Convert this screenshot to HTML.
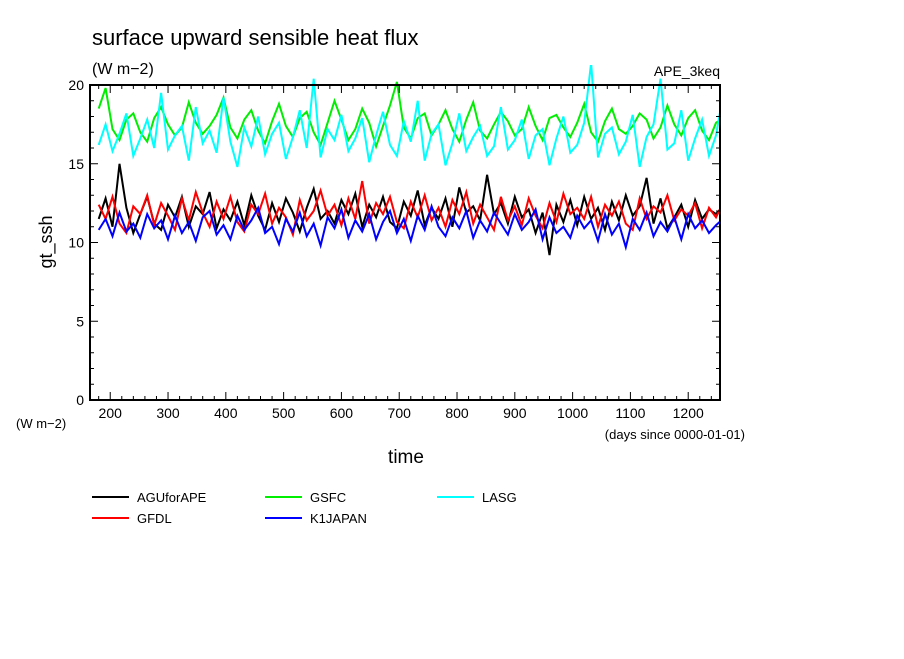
<!DOCTYPE html>
<html><head><meta charset="utf-8"><style>
body{margin:0;background:#fff;}
svg text{font-family:"Liberation Sans",sans-serif;fill:#000;}
</style></head><body>
<svg id="chart" width="904" height="654" xmlns="http://www.w3.org/2000/svg">
<rect width="904" height="654" fill="#fff"/>
<text x="92" y="45" font-size="22">surface upward sensible heat flux</text>
<text x="92" y="74" font-size="16">(W m−2)</text>
<text x="720" y="76" font-size="14" text-anchor="end">APE_3keq</text>
<text transform="translate(52,242) rotate(-90)" font-size="18" text-anchor="middle">gt_ssh</text>
<text x="16" y="428" font-size="13">(W m−2)</text>
<text x="745" y="439" font-size="13" text-anchor="end">(days since 0000-01-01)</text>
<text x="406" y="463" font-size="19" text-anchor="middle">time</text>
<g id="plot"></g>
<g id="axes"></g>
<g id="legend"></g>
</svg>
<script>
const xStart = 180, xStep = 12;
const xTicks = [200,300,400,500,600,700,800,900,1000,1100,1200];
const yTicks = [0,5,10,15,20];
const seriesNames = ["AGUforAPE","GFDL","GSFC","K1JAPAN","LASG"];
const seriesColors = ["#000000","#ff0000","#00ee00","#0000ff","#00ffff"];
const gsfc = [18.5,19.8,17.2,16.5,17.8,18.2,17.0,16.4,17.9,18.6,17.5,16.8,17.3,18.9,17.6,16.9,17.4,18.1,19.2,17.3,16.6,17.8,18.4,17.1,16.3,17.7,18.8,17.4,16.7,17.9,18.3,17.0,16.2,17.6,19.0,17.8,16.5,17.2,18.5,17.6,16.1,17.4,18.7,20.2,17.3,16.6,17.9,18.2,16.8,17.5,18.4,17.2,16.4,17.8,18.9,17.1,16.6,17.5,18.3,17.7,16.8,17.2,18.6,17.4,16.5,17.9,18.1,17.3,16.7,17.6,18.8,17.0,16.4,17.7,18.5,17.2,16.9,17.4,18.2,17.8,16.6,17.3,18.7,17.5,16.8,17.9,18.4,17.1,16.5,17.6,17.9];
const lasg = [16.2,17.5,15.8,16.9,18.2,15.5,16.6,17.8,16.0,19.5,15.9,16.8,17.4,15.2,18.6,16.3,17.1,15.7,19.2,16.4,14.8,17.3,16.1,18.0,15.6,16.9,17.6,15.3,16.7,18.4,16.0,20.4,15.4,17.2,16.5,18.1,15.8,16.6,17.9,15.1,16.8,18.3,16.2,15.5,17.7,16.4,19.0,15.2,16.9,17.5,14.9,16.3,18.2,15.8,16.7,17.4,15.5,16.1,18.6,15.9,16.5,17.8,15.3,16.8,17.2,14.9,16.6,18.0,15.7,16.2,17.6,21.4,15.4,16.9,17.3,15.6,16.4,18.1,14.8,16.7,17.5,20.4,15.9,16.3,18.4,15.2,16.6,17.8,15.5,16.8,19.3];
const agu = [11.5,12.8,11.0,15.0,12.2,10.6,11.8,12.9,11.2,10.8,12.4,11.6,12.9,11.0,12.3,11.8,13.2,10.9,12.1,11.4,12.6,11.1,13.0,11.7,10.8,12.5,11.3,12.8,11.9,10.7,12.2,13.4,11.5,12.0,11.2,12.7,11.8,13.1,11.0,12.4,11.6,12.9,11.3,10.9,12.6,11.7,13.3,11.1,12.2,11.5,12.8,11.0,13.5,11.9,12.3,11.4,14.3,11.8,12.5,11.2,12.9,11.6,12.1,10.6,11.9,9.2,12.4,11.3,12.7,11.1,12.9,11.5,12.2,10.8,12.6,11.4,13.0,11.7,12.3,14.1,11.2,12.8,10.9,11.6,12.4,11.0,12.7,11.5,12.1,11.8,12.3];
const gfdl = [12.4,11.5,12.9,11.2,10.6,12.3,11.8,13.0,11.1,12.5,11.7,10.8,12.8,11.4,13.2,11.9,11.0,12.6,11.5,12.9,11.3,10.7,12.4,11.8,13.1,11.2,12.2,11.6,10.5,12.7,11.4,12.0,13.3,11.7,12.4,11.1,12.8,11.5,13.9,11.2,12.5,11.8,12.9,11.3,10.9,12.6,11.6,13.0,11.4,12.2,11.0,12.7,11.8,13.2,11.2,12.4,11.6,10.8,12.9,11.4,12.3,11.1,12.8,11.7,10.9,12.5,11.3,13.1,11.8,12.2,11.5,12.9,11.0,12.4,11.7,12.6,11.2,10.8,12.8,11.5,12.3,11.9,13.0,11.4,12.1,11.7,12.5,10.9,12.2,11.6,12.5];
const k1 = [10.8,11.5,10.4,11.9,10.7,11.2,10.3,11.8,10.9,11.4,10.2,11.7,10.6,11.3,10.1,11.6,12.0,10.5,11.1,10.2,11.7,10.8,11.4,12.2,10.6,11.0,9.9,11.5,10.7,11.9,10.4,11.2,9.8,11.6,10.9,12.1,10.3,11.4,10.7,11.8,10.2,11.3,12.0,10.6,11.5,10.1,11.7,10.8,12.3,11.0,10.4,11.6,10.9,12.0,10.3,11.4,10.7,11.9,11.2,10.5,11.8,10.8,11.3,12.1,10.2,11.6,10.6,11.0,10.3,11.7,10.9,11.4,10.1,11.8,10.5,11.2,9.7,11.5,10.8,11.9,10.4,11.3,10.7,11.6,10.2,11.8,10.9,11.4,10.6,11.1,11.5];
const seriesData = [agu,gfdl,gsfc,k1,lasg];
const drawOrder = [2,4,0,1,3];

const X0=90,X1=720,Y0=85,Y1=400, D0=165, D1=1255, V0=0, V1=20;
const xs = d => X0 + (d-D0)/(D1-D0)*(X1-X0);
const ys = v => Y1 - (v-V0)/(V1-V0)*(Y1-Y0);
const NS="http://www.w3.org/2000/svg";
function mk(tag, attrs, parent){const e=document.createElementNS(NS,tag);for(const k in attrs)e.setAttribute(k,attrs[k]);parent.appendChild(e);return e;}
const plot=document.getElementById('plot'), axes=document.getElementById('axes'), legend=document.getElementById('legend');
const clip=mk('clipPath',{id:'clp'},plot); mk('rect',{x:X0,y:Y0-20,width:X1-X0,height:Y1-Y0+20},clip);
drawOrder.forEach(i=>{
  const arr=seriesData[i];
  const pts=arr.map((v,j)=>xs(xStart+j*xStep).toFixed(1)+','+ys(v).toFixed(1)).join(' ');
  const pl=mk('polyline',{points:pts,fill:'none',stroke:seriesColors[i],'stroke-width':2,'clip-path':'url(#clp)'},plot);
  
  
});
const frame=mk('rect',{x:X0,y:Y0,width:X1-X0,height:Y1-Y0,fill:'none',stroke:'#000','stroke-width':2},axes);


for(let d=180; d<=1250; d+=20){
  const major = d%100===0, x=xs(d), L=major?8:4;
  mk('line',{x1:x,y1:Y1,x2:x,y2:Y1-L,stroke:'#000','stroke-width':1},axes);
  mk('line',{x1:x,y1:Y0,x2:x,y2:Y0+L,stroke:'#000','stroke-width':1},axes);
}
xTicks.forEach(d=>{
  const t=mk('text',{x:xs(d),y:Y1+18,'font-size':14,'text-anchor':'middle'},axes); t.textContent=d;
  
  
});
for(let v=0; v<=20; v+=1){
  const major=v%5===0, y=ys(v), L=major?8:4;
  mk('line',{x1:X0,y1:y,x2:X0+L,y2:y,stroke:'#000','stroke-width':1},axes);
  mk('line',{x1:X1,y1:y,x2:X1-L,y2:y,stroke:'#000','stroke-width':1},axes);
}
yTicks.forEach(v=>{
  const t=mk('text',{x:X0-6,y:ys(v)+5,'font-size':14,'text-anchor':'end'},axes); t.textContent=v;
  
  
});
const legPos=[[92,497],[92,518],[265,497],[265,518],[437,497]];
seriesNames.forEach((n,i)=>{
  const [lx,ly]=legPos[i];
  const g=mk('g',{},legend);
  
  
  mk('line',{x1:lx,y1:ly,x2:lx+37,y2:ly,stroke:seriesColors[i],'stroke-width':2},g);
  const t=mk('text',{x:lx+45,y:ly+5,'font-size':13},g); t.textContent=n;
});
</script>
</body></html>
